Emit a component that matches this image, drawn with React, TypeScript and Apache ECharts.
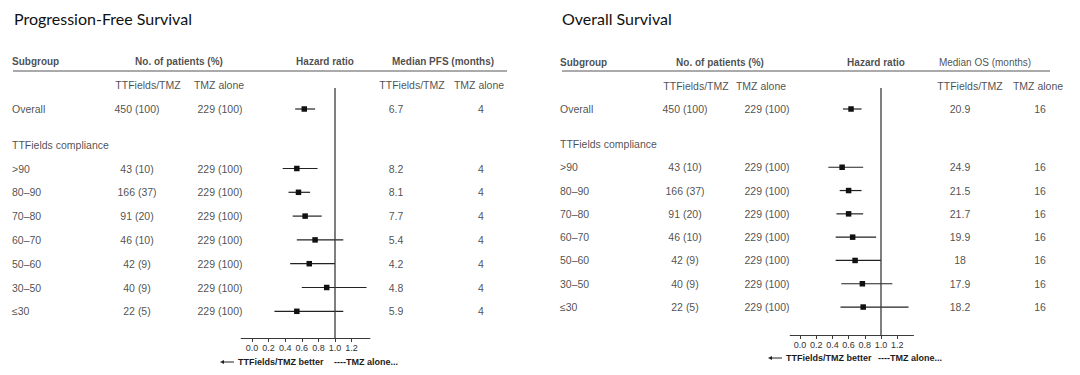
import React, { useEffect, useRef } from "react";
import * as echarts from "echarts";

// ---------- data ----------
const subgroupLabels = ["Overall", ">90", "80–90", "70–80", "60–70", "50–60", "30–50", "≤30"];
const groupTitle = "TTFields compliance";

const pfsPatientsTTF = ["450 (100)", "43 (10)", "166 (37)", "91 (20)", "46 (10)", "42 (9)", "40 (9)", "22 (5)"];
const pfsPatientsTMZ = ["229 (100)", "229 (100)", "229 (100)", "229 (100)", "229 (100)", "229 (100)", "229 (100)", "229 (100)"];
const pfsHR = [0.63, 0.54, 0.56, 0.64, 0.76, 0.69, 0.9, 0.54];
const pfsLow = [0.52, 0.37, 0.44, 0.49, 0.54, 0.46, 0.6, 0.27];
const pfsHigh = [0.76, 0.79, 0.7, 0.84, 1.1, 1.0, 1.38, 1.1];
const pfsMedianTTF = ["6.7", "8.2", "8.1", "7.7", "5.4", "4.2", "4.8", "5.9"];
const pfsMedianTMZ = ["4", "4", "4", "4", "4", "4", "4", "4"];

const osPatientsTTF = ["450 (100)", "43 (10)", "166 (37)", "91 (20)", "46 (10)", "42 (9)", "40 (9)", "22 (5)"];
const osPatientsTMZ = ["229 (100)", "229 (100)", "229 (100)", "229 (100)", "229 (100)", "229 (100)", "229 (100)", "229 (100)"];
const osHR = [0.63, 0.52, 0.6, 0.6, 0.65, 0.68, 0.77, 0.78];
const osLow = [0.53, 0.35, 0.49, 0.45, 0.44, 0.44, 0.51, 0.5];
const osHigh = [0.76, 0.78, 0.76, 0.78, 0.94, 1.0, 1.14, 1.34];
const osMedianTTF = ["20.9", "24.9", "21.5", "21.7", "19.9", "18", "17.9", "18.2"];
const osMedianTMZ = ["16", "16", "16", "16", "16", "16", "16", "16"];

const hrTicks = [0, 0.2, 0.4, 0.6, 0.8, 1.0, 1.2];

// ---------- layout ----------
const FONT = "'Liberation Sans', Arial, sans-serif";
const TXT = "#1c1c1c";
const rowPos = (i: number) => (i === 0 ? 0 : i + 1.5);

type Panel = {
  x0: number;
  u: number;
  axisY: number;
  hrMin: number;
  hrMax: number;
  hrZeroX: number;
  hrScale: number;
  subX: number;
  headers: { text: string; x: number; align: string; bold: boolean }[];
  subheaders: number[];
  valueCols: number[];
  lineX: [number, number];
  cols: string[][];
  hr: number[];
  lo: number[];
  hi: number[];
};

const panels: Panel[] = [
  {
    x0: 0,
    u: 23.8,
    axisY: 338,
    hrMin: -0.13,
    hrMax: 1.42,
    hrZeroX: 252,
    hrScale: 83,
    subX: 12,
    headers: [
      { text: "Subgroup", x: 12, align: "left", bold: true },
      { text: "No. of patients (%)", x: 179, align: "center", bold: true },
      { text: "Hazard ratio", x: 325, align: "center", bold: true },
      { text: "Median PFS (months)", x: 443, align: "center", bold: true },
    ],
    subheaders: [148, 219, 412, 479],
    valueCols: [137, 220, 396, 481],
    lineX: [13, 507],
    cols: [pfsPatientsTTF, pfsPatientsTMZ, pfsMedianTTF, pfsMedianTMZ],
    hr: pfsHR,
    lo: pfsLow,
    hi: pfsHigh,
  },
  {
    x0: 540,
    u: 23.3,
    axisY: 335,
    hrMin: -0.12,
    hrMax: 1.4,
    hrZeroX: 800,
    hrScale: 81,
    subX: 560,
    headers: [
      { text: "Subgroup", x: 560, align: "left", bold: true },
      { text: "No. of patients (%)", x: 720, align: "center", bold: true },
      { text: "Hazard ratio", x: 876, align: "center", bold: true },
      { text: "Median OS (months)", x: 985, align: "center", bold: false },
    ],
    subheaders: [696, 761, 970, 1038],
    valueCols: [685, 767, 960, 1040],
    lineX: [562, 1050],
    cols: [osPatientsTTF, osPatientsTMZ, osMedianTTF, osMedianTMZ],
    hr: osHR,
    lo: osLow,
    hi: osHigh,
  },
];

const subheaderTexts = ["TTFields/TMZ", "TMZ alone", "TTFields/TMZ", "TMZ alone"];

function textSeries(gridIdx: number, items: { name: string; value: [number, number] }[], align: string, bold: boolean, size: number) {
  return {
    type: "scatter",
    xAxisIndex: gridIdx,
    yAxisIndex: gridIdx,
    symbolSize: 0,
    silent: true,
    data: items,
    label: {
      show: true,
      position: "inside",
      align,
      verticalAlign: "middle",
      formatter: (p: any) => p.name,
      fontFamily: FONT,
      fontSize: size,
      fontWeight: bold ? "bold" : "normal",
      color: TXT,
    },
  };
}

function buildOption() {
  const grid: any[] = [];
  const xAxis: any[] = [];
  const yAxis: any[] = [];
  const series: any[] = [];

  panels.forEach((p) => {
    const yMax = (p.axisY - 109) / p.u;
    // table grid
    const tIdx = grid.length;
    grid.push({ left: p.x0, top: 109 - 2.5 * p.u, width: 540, height: (yMax + 2.5) * p.u });
    xAxis.push({ gridIndex: tIdx, type: "value", min: 0, max: 540, show: false });
    yAxis.push({ gridIndex: tIdx, type: "value", min: -2.5, max: yMax, inverse: true, show: false });

    const rel = (x: number) => x - p.x0;
    p.headers.forEach((h) => {
      series.push(textSeries(tIdx, [{ name: h.text, value: [rel(h.x), -2] }], h.align, h.bold, 10));
    });
    series.push(
      textSeries(
        tIdx,
        p.subheaders.map((x, k) => ({ name: subheaderTexts[k], value: [rel(x), -1] as [number, number] })),
        "center",
        false,
        10.5
      )
    );
    const names = subgroupLabels.map((s, i) => ({ name: s, value: [rel(p.subX), rowPos(i)] as [number, number] }));
    names.push({ name: groupTitle, value: [rel(p.subX), 1.5] });
    series.push(textSeries(tIdx, names, "left", false, 10.5));
    p.cols.forEach((col, c) => {
      series.push(
        textSeries(
          tIdx,
          col.map((v, i) => ({ name: v, value: [rel(p.valueCols[c]), rowPos(i)] as [number, number] })),
          "center",
          false,
          10.5
        )
      );
    });
    series.push({
      type: "line",
      xAxisIndex: tIdx,
      yAxisIndex: tIdx,
      symbol: "none",
      silent: true,
      data: [
        [rel(p.lineX[0]), (71 - 109) / p.u],
        [rel(p.lineX[1]), (71 - 109) / p.u],
      ],
      lineStyle: { color: "#8e8e8e", width: 1.5 },
    });

    // forest grid
    const fIdx = grid.length;
    const left = p.hrZeroX + p.hrMin * p.hrScale;
    const width = (p.hrMax - p.hrMin) * p.hrScale;
    const yMin = (88 - 109) / p.u;
    grid.push({ left, top: 88, width, height: p.axisY - 88 });
    xAxis.push({
      gridIndex: fIdx,
      type: "value",
      min: p.hrMin,
      max: p.hrMax,
      position: "bottom",
      axisLine: { show: true, onZero: false, lineStyle: { color: "#3a3a3a", width: 1.2 } },
      axisTick: { show: true, customValues: hrTicks, length: 4, lineStyle: { color: "#3a3a3a", width: 1 } },
      axisLabel: {
        show: true,
        customValues: hrTicks,
        formatter: (v: number) => v.toFixed(1),
        fontFamily: FONT,
        fontSize: 9,
        color: "#333",
        margin: 5,
      },
      splitLine: { show: false },
    });
    yAxis.push({ gridIndex: fIdx, type: "value", min: yMin, max: yMax, inverse: true, show: false });

    series.push({
      type: "line",
      xAxisIndex: fIdx,
      yAxisIndex: fIdx,
      symbol: "none",
      silent: true,
      data: [
        [1, yMin],
        [1, yMax],
      ],
      lineStyle: { color: "#3a3a3a", width: 1.3 },
    });

    series.push({
      type: "custom",
      xAxisIndex: fIdx,
      yAxisIndex: fIdx,
      silent: true,
      encode: { x: [0, 1, 2], y: 3 },
      data: p.hr.map((h, i) => [h, p.lo[i], p.hi[i], rowPos(i)]),
      renderItem: (params: any, api: any) => {
        const y = api.value(3);
        const a = api.coord([api.value(1), y]);
        const b = api.coord([api.value(2), y]);
        const c = api.coord([api.value(0), y]);
        const s = 5.5;
        return {
          type: "group",
          children: [
            {
              type: "line",
              shape: { x1: a[0], y1: a[1], x2: b[0], y2: b[1] },
              style: { stroke: "#222", lineWidth: 1.2 },
            },
            {
              type: "rect",
              shape: { x: c[0] - s / 2, y: c[1] - s / 2, width: s, height: s },
              style: { fill: "#111" },
            },
          ],
        };
      },
    });
  });

  const legendText = (x: number, y: number, text: string) => ({
    type: "text",
    x,
    y,
    style: { text, fontFamily: FONT, fontSize: 9, fontWeight: "bold", fill: TXT, textVerticalAlign: "middle" },
  });
  const arrow = (x: number, y: number) => ({
    type: "group",
    children: [
      { type: "line", shape: { x1: x + 3, y1: y, x2: x + 14, y2: y }, style: { stroke: "#222", lineWidth: 1 } },
      { type: "polygon", shape: { points: [[x, y], [x + 4, y - 2], [x + 4, y + 2]] }, style: { fill: "#222" } },
    ],
  });

  return {
    animation: false,
    backgroundColor: "#ffffff",
    title: [
      {
        text: "Progression-Free Survival",
        left: 9,
        top: 5,
        textStyle: { fontFamily: "Lato", fontSize: 16, fontWeight: "normal", color: "#111" },
      },
      {
        text: "Overall Survival",
        left: 557,
        top: 5,
        textStyle: { fontFamily: "Lato", fontSize: 16, fontWeight: "normal", color: "#111" },
      },
    ],
    grid,
    xAxis,
    yAxis,
    series,
    graphic: [
      arrow(220, 362),
      legendText(238, 362, "TTFields/TMZ better"),
      legendText(334, 362, "----TMZ alone..."),
      arrow(768, 358),
      legendText(786, 358, "TTFields/TMZ better"),
      legendText(878, 358, "----TMZ alone..."),
    ],
  };
}

export default function App() {
  const ref = useRef<HTMLDivElement>(null);
  useEffect(() => {
    if (!ref.current) return;
    const chart = echarts.init(ref.current, undefined, { renderer: "svg" });
    chart.setOption(buildOption() as any);
    return () => chart.dispose();
  }, []);
  return (
    <div
      ref={ref}
      style={{ position: "fixed", left: 0, top: 0, width: 1080, height: 375, background: "#fff" }}
    />
  );
}
